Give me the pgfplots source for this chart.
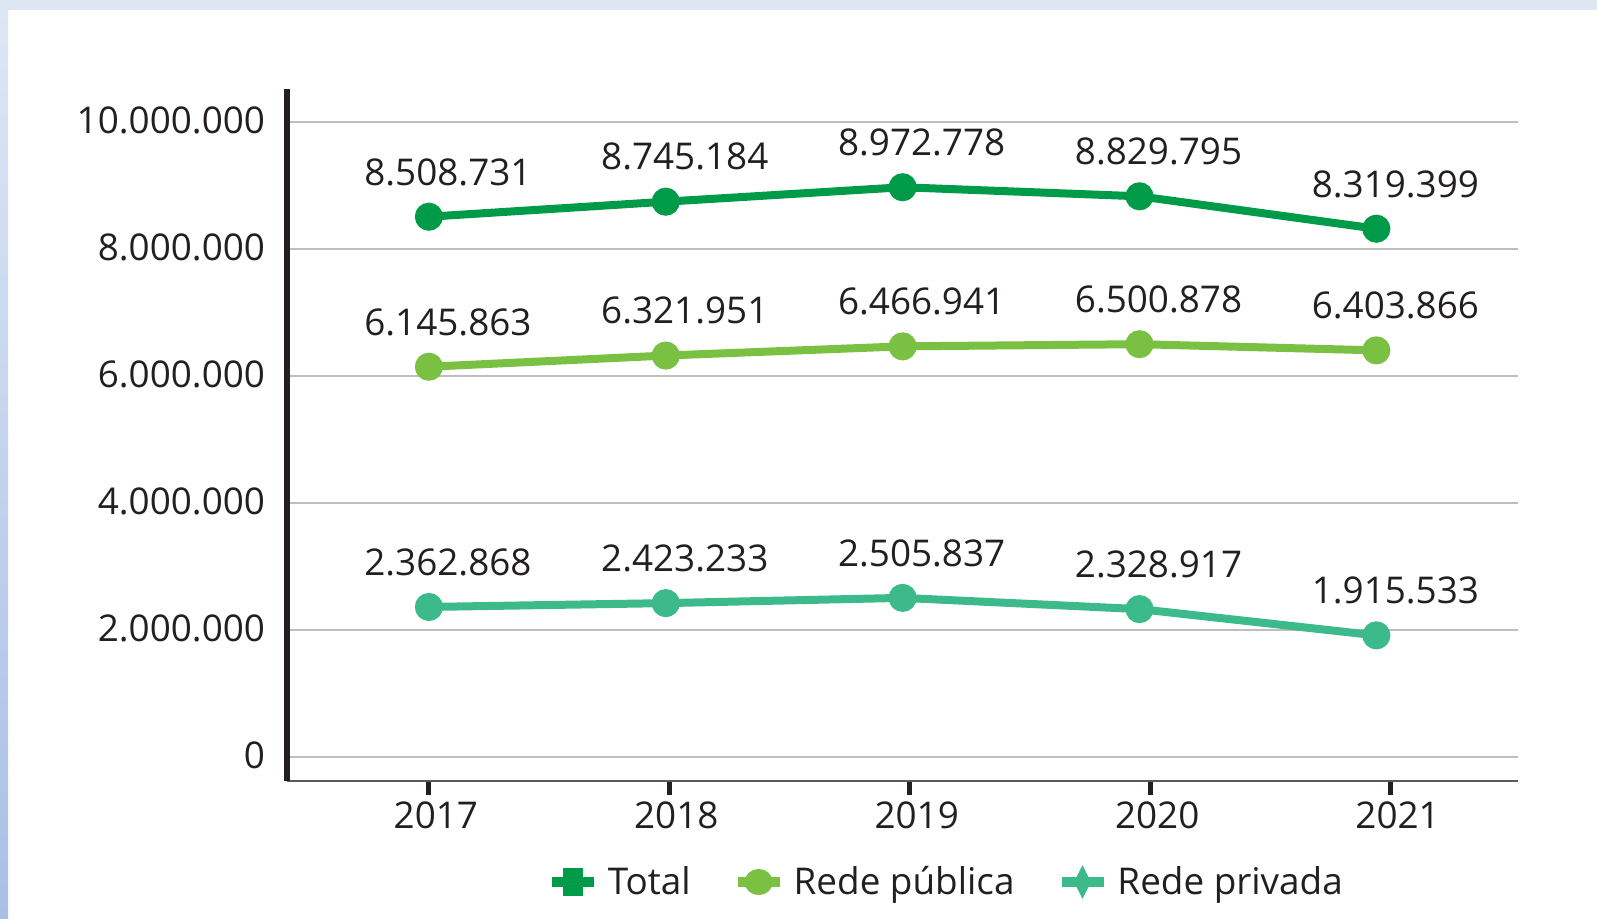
\documentclass[border=0pt]{standalone}
\usepackage{pgfplots}
\usepackage{pgfplotstable}
\usepackage{fontspec}
\setmainfont{Open Sans}
\pgfplotsset{compat=1.18}
\definecolor{cTotal}{HTML}{009B48}
\definecolor{cPub}{HTML}{7AC143}
\definecolor{cPriv}{HTML}{3DBA8C}
\definecolor{txt}{HTML}{231F20}
\definecolor{frameTop}{HTML}{DEE6F3}
\definecolor{frameBot}{HTML}{A9BFE6}
\definecolor{gridc}{HTML}{BEBEBE}

\pgfplotstableread{
x y label
2017 8508731 8.508.731
2018 8745184 8.745.184
2019 8972778 8.972.778
2020 8829795 8.829.795
2021 8319399 8.319.399
}\total
\pgfplotstableread{
x y label
2017 6145863 6.145.863
2018 6321951 6.321.951
2019 6466941 6.466.941
2020 6500878 6.500.878
2021 6403866 6.403.866
}\publica
\pgfplotstableread{
x y label
2017 2362868 2.362.868
2018 2423233 2.423.233
2019 2505837 2.505.837
2020 2328917 2.328.917
2021 1915533 1.915.533
}\privada

\begin{document}
\begin{tikzpicture}[font=\fontsize{18.5}{22}\selectfont, text=txt]
\useasboundingbox (0,0) rectangle (798.5bp,459.5bp);
\fill[white] (0,0) rectangle (798.5bp,459.5bp);
\fill[frameTop] (0,454.5bp) rectangle (798.5bp,459.5bp);
\shade[top color=frameTop, bottom color=frameBot] (0,0) rectangle (4bp,454.5bp);
\begin{axis}[
  at={(143.5bp,69bp)}, anchor=south west,
  scale only axis,
  width=615.5bp, height=346bp,
  xmin=2016.401, xmax=2021.598,
  ymin=-378000, ymax=10520000,
  axis lines=left,
  axis line style={-},
  x axis line style={line width=1bp, draw=black!65},
  y axis line style={line width=2.5bp, draw=txt},
  xtick={2017,2018.015,2019.030,2020.045,2021.060},
  xticklabels={2017,2018,2019,2020,2021},
  ytick={0,2000000,4000000,6000000,8000000,10000000},
  yticklabels={0,2.000.000,4.000.000,6.000.000,8.000.000,10.000.000},
  scaled y ticks=false,
  tick align=outside,
  major tick length=7bp,
  xtick style={line width=2.5bp, draw=txt},
  ytick style={draw=none},
  ymajorgrids,
  grid style={line width=1bp, draw=gridc},
  xticklabel style={xshift=3.5bp},
  yticklabel style={xshift=-0.5bp, yshift=1bp},
  every node near coord/.append style={xshift=9.5bp, yshift=0bp, anchor=center, text=txt},
  nodes near coords align={center},
  legend columns=-1,
  legend style={at={(0.536,-0.146)}, anchor=center, draw=none, fill=none,
    column sep=0bp,
    /tikz/every even column/.append style={column sep=19bp},
    /tikz/every odd column/.append style={column sep=2.5bp}},
  legend cell align=left,
]
\addplot[cTotal, line width=4bp, mark=*, mark size=5bp,
  nodes near coords, point meta=explicit symbolic,
  every node near coord/.append style={yshift=22.4bp},
  legend image code/.code={
    \draw[cTotal, line width=5bp] (0bp,0bp) -- (21bp,0bp);
    \fill[cTotal] (7.5bp,-5bp) rectangle (13.5bp,5bp);}
] table[x=x, y=y, meta=label] {\total};
\addlegendentry{Total}
\addplot[cPub, line width=4bp, mark=*, mark size=5bp,
  nodes near coords, point meta=explicit symbolic,
  every node near coord/.append style={yshift=22.4bp},
  legend image code/.code={
    \draw[cPub, line width=5bp] (0bp,0bp) -- (21bp,0bp);
    \fill[cPub] (10.5bp,0bp) ellipse (5bp and 4.5bp);}
] table[x=x, y=y, meta=label] {\publica};
\addlegendentry{Rede pública}
\addplot[cPriv, line width=4bp, mark=*, mark size=5bp,
  nodes near coords, point meta=explicit symbolic,
  every node near coord/.append style={yshift=22.4bp},
  legend image code/.code={
    \draw[cPriv, line width=5bp] (0bp,0bp) -- (21bp,0bp);
    \fill[cPriv] (10.5bp,-4bp) -- (12.5bp,0bp) -- (10.5bp,4bp) -- (8.5bp,0bp) -- cycle;}
] table[x=x, y=y, meta=label] {\privada};
\addlegendentry{Rede privada}
\end{axis}
\end{tikzpicture}
\end{document}
